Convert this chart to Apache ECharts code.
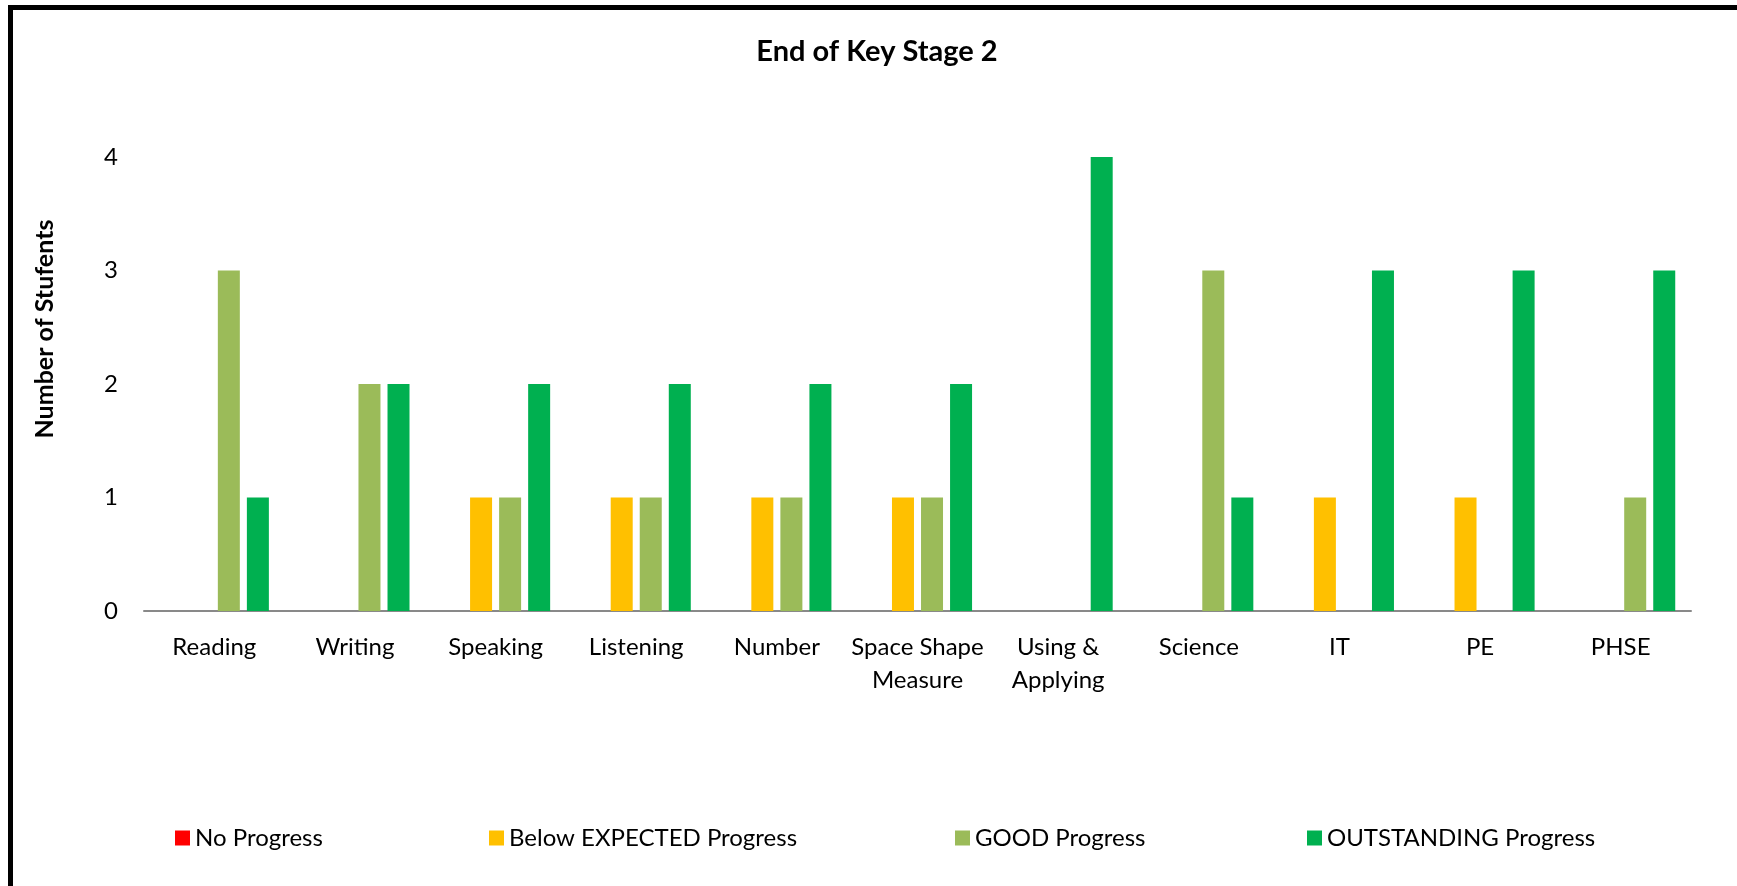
<!DOCTYPE html>
<html>
<head>
<meta charset="utf-8">
<script src="https://cdn.jsdelivr.net/npm/echarts@6/dist/echarts.min.js"></script>
<style>
  html, body { margin: 0; padding: 0; background: #fff; }
  #chart { width: 1737px; height: 886px; }
  .frame {
    position: absolute; left: 8px; top: 5px; width: 1800px; height: 950px;
    border-top: 5px solid #000; border-left: 5px solid #000;
    pointer-events: none;
  }
</style>
</head>
<body>
<div id="chart"></div>
<div class="frame"></div>
<script>
// subjects and pupil counts per progress band
const subjects = ['Reading', 'Writing', 'Speaking', 'Listening', 'Number',
  'Space Shape\nMeasure', 'Using &\nApplying', 'Science', 'IT', 'PE', 'PHSE'];
const noProgress = [0, 0, 0, 0, 0, 0, 0, 0, 0, 0, 0];
const belowExpected = [0, 0, 1, 1, 1, 1, 0, 0, 1, 1, 0];
const goodProgress = [3, 2, 1, 1, 1, 1, 0, 3, 0, 0, 1];
const outstanding = [1, 2, 2, 2, 2, 2, 4, 1, 3, 3, 3];
const yTicks = [0, 1, 2, 3, 4];

const font = 'Lato, "Open Sans", sans-serif';
const chart = echarts.init(document.getElementById('chart'));

function legendAt(name, left) {
  return {
    data: [name], left: left, top: 826, padding: 0,
    icon: 'rect', itemWidth: 15, itemHeight: 15,
    textStyle: { fontFamily: font, fontSize: 24, color: '#000' },
    selectedMode: false
  };
}

function barSeries(name, data, color) {
  return { name: name, type: 'bar', data: data, barWidth: 22, barGap: '32%',
    itemStyle: { color: color } };
}

chart.setOption({
  animation: false,
  textStyle: { fontFamily: font },
  graphic: [{
    type: 'text', x: 877, y: 52,
    style: {
      text: 'End of Key Stage 2', fontFamily: font, fontSize: 29, fontWeight: 'bold',
      fill: '#000', align: 'center', verticalAlign: 'middle'
    }
  }, {
    type: 'text', x: 45, y: 329, rotation: Math.PI / 2,
    style: {
      text: 'Number of Stufents', fontFamily: font, fontSize: 25, fontWeight: 'bold',
      fill: '#000', align: 'center', verticalAlign: 'middle'
    }
  }],
  legend: [
    legendAt('No Progress', 175),
    legendAt('Below EXPECTED Progress', 489),
    legendAt('GOOD Progress', 955),
    legendAt('OUTSTANDING Progress', 1307)
  ],
  grid: { left: 144, right: 46, top: 157, bottom: 275, containLabel: false },
  xAxis: {
    type: 'category',
    data: subjects,
    axisTick: { show: false },
    axisLine: { lineStyle: { color: '#898989', width: 2 } },
    axisLabel: { fontFamily: font, fontSize: 24, color: '#000', margin: 20, lineHeight: 33, interval: 0 }
  },
  yAxis: {
    type: 'value', min: yTicks[0], max: yTicks[yTicks.length - 1], interval: 1,
    splitLine: { show: false },
    axisLine: { show: false },
    axisTick: { show: false },
    axisLabel: { fontFamily: font, fontSize: 24, color: '#000', margin: 26 }
  },
  series: [
    barSeries('No Progress', noProgress, '#FF0000'),
    barSeries('Below EXPECTED Progress', belowExpected, '#FFC000'),
    barSeries('GOOD Progress', goodProgress, '#9BBB59'),
    barSeries('OUTSTANDING Progress', outstanding, '#00B050')
  ]
});
</script>
</body>
</html>
